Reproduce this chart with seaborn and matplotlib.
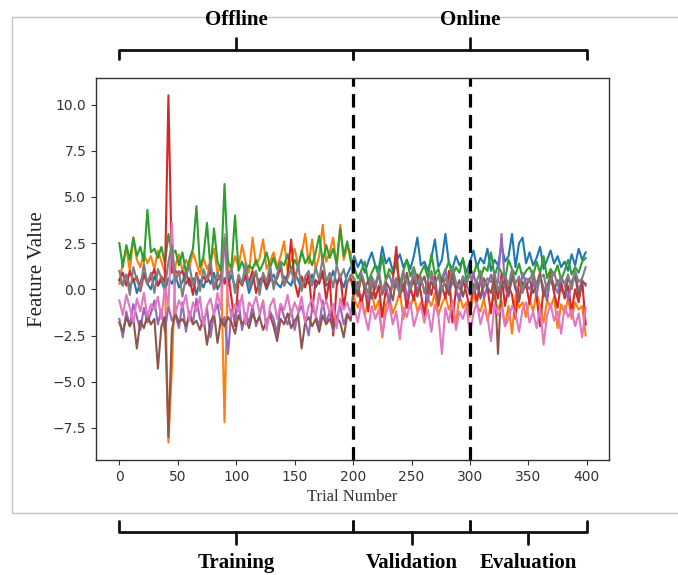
import matplotlib
matplotlib.use('Agg')
import matplotlib.pyplot as plt
import matplotlib.transforms as mtransforms
from matplotlib.lines import Line2D
from matplotlib.patches import Rectangle
import seaborn as sns
import pandas as pd

# numero do ensaio (um ponto a cada 3 ensaios)
trials = list(range(0, 400, 3))

# valores: offline (0-198) + online (201-399)
blue = [0.5, 0.2, 0.8, 0.1, 0.6, -0.2, 0.4, 0.9, 0.3, 0.0,
        0.7, 0.2, 0.5, -0.1, 0.6, 0.3, 0.8, 0.1, 0.4, 1.0,
        0.2, 0.6, -0.3, 0.5, 0.1, 0.7, 0.3, 0.9, 0.0, 0.4,
        0.6, 0.2, 0.8, 0.1, 0.5, 0.3, 0.7, -0.2, 0.4, 0.9,
        0.2, 0.6, 0.0, 0.5, 0.8, 0.3, 0.1, 0.7, 0.4, 0.2,
        0.9, 0.5, 0.0, 0.6, 0.3, 0.8, 0.1, 0.5, 0.7, 0.2,
        0.4, 1.0, 0.3, 0.6, 0.1, 0.8, 1.2,
        1.8, 1.2, 1.6, 0.9, 1.5, 2.0, 1.3, 1.1, 2.3, 1.4,
        1.7, 1.0, 1.5, 1.9, 1.2, 1.6, 1.1, 1.8, 2.8, 1.3,
        1.5, 1.0, 1.7, 2.7, 1.2, 1.6, 3.0, 1.4, 1.1, 1.8,
        1.3, 1.6, 0.9, 1.5, 2.1, 1.2, 1.7, 1.4, 2.2, 1.0,
        1.6, 1.3, 2.4, 1.5, 1.8, 3.0, 1.2, 2.5, 2.8, 1.4,
        2.0, 1.3, 1.7, 2.3, 1.1, 1.6, 2.1, 1.4, 1.8, 1.2,
        1.5, 1.0, 1.9, 1.3, 2.2, 1.6, 2.0]

orange = [0.3, 1.5, 2.2, 1.0, 2.8, 1.6, 1.2, 2.0, 1.4, 1.8,
          1.1, 2.1, 1.5, 0.9, -8.3, -4.3, 1.3, 1.9, 1.0, 1.6,
          1.2, 2.0, 1.4, 0.8, 1.7, 1.1, 1.5, 2.2, 0.9, 1.3,
          -7.2, 1.6, 1.0, 1.8, 1.2, 2.4, 1.5, 0.9, 2.8, 1.3,
          1.7, 2.7, 1.1, 1.5, 2.0, 1.2, 1.8, 2.6, 1.0, 1.6,
          2.2, 1.3, 1.9, 3.0, 1.4, 2.7, 1.1, 1.8, 3.5, 1.5,
          2.0, 2.8, 1.2, 3.5, 1.6, 2.3, 2.0,
          -0.5, -1.0, -0.3, -1.4, -0.7, -0.2, -1.1, -0.6, -2.6, -0.9,
          -0.4, -1.3, -0.8, -0.1, -1.6, -0.6, -1.0, -0.3, -1.2, -0.7,
          -1.8, -0.5, -0.9, -0.2, -1.4, -0.8, -0.4, -1.1, -0.6, -1.9,
          -0.3, -1.0, -0.7, -1.5, -0.2, -0.9, -1.2, -0.5, -1.7, -0.8,
          -0.4, -1.1, -0.6, -2.0, -0.9, -2.4, -0.3, -1.0, -0.7, -1.5,
          -0.5, -1.2, -0.2, -0.9, -1.8, -0.6, -1.0, -0.4, -2.1, -0.8,
          -1.3, -0.5, -1.6, -0.7, -1.1, -0.9, -2.5]

green = [2.5, 1.2, 2.4, 1.6, 2.8, 1.8, 2.3, 1.5, 4.3, 2.0,
         2.2, 1.7, 2.3, 1.4, 3.0, 1.9, 2.1, 1.3, 2.0, 0.9,
         1.6, 2.2, 4.5, 1.2, 1.8, 3.6, 1.1, 3.3, 1.5, 1.0,
         5.7, 1.4, 1.2, 4.0, 1.0, 1.5, 0.9, 1.3, 1.1, 1.6,
         1.0, 1.4, 2.0, 1.2, 1.7, 1.1, 1.5, 1.3, 1.9, 1.0,
         1.6, 1.2, 2.1, 1.4, 1.8, 1.3, 2.0, 2.9, 1.5, 2.4,
         1.7, 2.2, 1.4, 3.3, 1.8, 2.6, 1.5,
         1.2, 0.6, 1.0, 1.5, 0.4, 0.9, 1.3, 0.7, 1.8, 0.5,
         1.1, 0.8, 1.4, 0.3, 1.0, 1.6, 0.7, 1.2, 0.5, 0.9,
         1.3, 0.6, 1.9, 0.8, 1.1, 0.4, 1.0, 1.5, 0.7, 1.2,
         0.9, 1.7, 0.5, 1.1, 0.8, 1.4, 0.6, 1.2, 1.0, 2.0,
         0.7, 1.3, 0.9, 0.5, 1.6, 1.1, 0.8, 1.4, 0.6, 1.0,
         1.2, 0.7, 1.5, 0.9, 1.8, 0.6, 1.1, 0.8, 1.3, 0.5,
         1.0, 1.6, 0.8, 1.2, 0.9, 1.5, 1.7]

red = [0.5, 0.9, 0.2, 1.0, 0.4, 0.7, -0.1, 0.8, 0.3, 0.6,
       1.1, 0.2, 0.7, 0.4, 10.5, 0.9, 1.0, 0.8, 1.0, 0.3,
       0.6, -0.3, 0.9, 0.2, 0.7, 0.4, 1.1, 0.0, 0.5, 0.8,
       0.3, 0.9, -0.5, -2.0, 0.6, 0.2, 0.8, 0.4, 1.0, -0.2,
       0.5, 0.7, 0.1, 0.9, 0.3, 0.6, 1.2, 0.2, 0.8, 2.7,
       0.4, -0.4, 0.7, 0.1, 0.9, -1.2, 0.5, 0.3, 1.0, -0.6,
       0.6, -2.5, 0.2, 0.8, -1.0, 0.4, 0.6,
       -0.3, 0.4, -0.8, 0.1, -1.2, 0.6, -0.5, 0.2, -1.5, 0.0,
       -0.7, 0.5, 2.3, -0.4, 0.3, -1.0, 0.1, -0.6, 0.8, -0.2,
       -1.4, 0.4, -0.3, 0.7, -0.9, 0.2, -0.5, 1.0, -1.8, 0.0,
       -0.6, 0.5, -0.2, -1.1, 0.3, -0.7, 0.6, -0.4, 0.1, -1.3,
       0.4, -0.5, 0.8, -0.9, 0.2, -0.3, -1.6, 0.5, -0.1, 0.3,
       -0.8, 0.6, -0.4, -2.0, 0.1, -0.6, 0.9, -0.2, -1.0, 0.4,
       -0.5, 0.2, -1.2, 0.0, -0.7, 0.5, -1.9]

purple = [-1.6, -2.6, -1.2, -2.0, -0.8, -1.5, -2.2, -1.0, -1.8, -1.3,
          -0.6, -1.9, -1.1, -2.3, -0.9, -1.7, -1.4, -2.1, -0.7, -2.3,
          -1.2, -1.8, -0.5, -1.6, -2.0, -1.0, -2.6, -1.3, -0.8, -1.9,
          -1.5, -3.5, -1.1, -1.7, -0.6, -2.2, -1.3, -1.8, -0.9, -2.0,
          -1.4, -0.7, -2.1, -1.2, -1.6, -2.4, -0.8, -1.5, -1.9, -1.1,
          -2.2, -1.3, -0.9, -1.7, -2.5, -1.0, -1.4, -2.0, -0.6, -1.8,
          -1.2, -2.3, -1.5, -0.9, -1.9, -1.3, -1.6,
          0.3, -0.4, 0.8, 0.1, -0.6, 0.5, 0.0, 0.9, -0.3, 0.4,
          -0.8, 0.6, 0.2, -0.2, 1.0, -0.5, 0.3, 0.7, -0.1, 0.5,
          0.0, -0.7, 0.8, 0.2, -0.4, 0.6, 1.1, -0.2, 0.4, 0.1,
          -0.6, 0.7, 0.3, -0.3, 0.9, 0.0, 0.5, -0.5, 0.2, 0.8,
          -0.1, 0.4, 3.0, 0.1, -0.4, 0.6, 0.2, -0.7, 0.9, 0.3,
          0.0, 0.5, -0.3, 0.7, 0.1, -0.5, 0.8, 0.2, -0.2, 0.6,
          0.3, -0.6, 0.4, 0.9, -0.1, 0.5, 0.2]

brown = [-1.8, -2.3, -1.5, -2.0, -1.6, -3.2, -1.7, -2.1, -1.4, -1.9,
         -1.6, -4.3, -2.0, -1.5, -8.0, -2.2, -1.3, -1.8, -1.6, -2.0,
         -1.4, -1.9, -1.7, -2.2, -1.5, -3.0, -1.8, -1.3, -2.9, -1.6,
         -2.0, -1.5, -1.8, -2.4, -1.4, -1.9, -1.6, -2.1, -1.3, -1.8,
         -1.5, -2.2, -1.7, -1.4, -2.0, -2.8, -1.6, -1.9, -1.3, -2.1,
         -1.7, -1.4, -3.2, -1.8, -1.5, -2.0, -1.6, -2.3, -1.4, -1.9,
         -1.6, -2.1, -1.5, -1.8, -2.6, -1.4, -1.7,
         0.4, -0.3, 0.7, 0.0, 0.5, -0.5, 0.3, 0.8, -0.2, 0.4,
         0.1, -0.6, 0.6, 0.2, -0.1, 0.9, 0.0, 0.5, -0.4, 0.3,
         0.7, -0.2, 0.4, 0.1, -0.7, 0.6, 0.2, -0.3, 0.8, 0.0,
         0.5, -0.4, 0.3, 0.9, -0.1, 0.4, -0.5, 0.6, 0.1, -0.2,
         0.7, -3.5, 0.2, 0.5, -0.3, 0.8, 0.0, -0.6, 0.4, 0.1,
         0.6, -0.2, 0.3, 0.9, -0.4, 0.2, 0.7, -0.1, 0.5, 0.0,
         -0.3, 0.6, 0.2, 0.8, -0.5, 0.4, 0.3]

pink = [-0.6, -1.4, -0.3, -1.0, -1.8, -0.5, -1.2, -0.2, -1.5, -0.8,
        -1.1, -0.4, -1.6, 0.2, -0.9, 3.6, -1.3, -0.6, -1.0, -0.3,
        -1.7, -0.7, -1.2, -0.4, -2.0, -0.9, -0.5, -1.4, -0.2, -1.1,
        3.0, -0.6, -1.5, -0.8, -1.2, -0.3, -1.9, -0.7, -1.0, -0.4,
        -1.3, -0.6, -2.2, -0.9, -0.5, -1.6, -0.8, -1.1, -0.3, -1.4,
        -0.7, -1.2, -0.4, -1.8, -0.9, -0.5, -1.5, -0.2, -1.0, -0.6,
        -1.3, -0.8, -2.1, -0.5, -1.1, -0.7, -1.4,
        -1.0, -1.8, -0.7, -1.4, -2.2, -0.9, -1.6, -1.1, -2.5, -1.3,
        -0.8, -1.9, -1.2, -2.7, -1.0, -1.5, -0.7, -2.0, -1.3, -0.9,
        -1.7, -1.1, -2.3, -0.8, -1.4, -3.5, -1.0, -1.8, -0.6, -2.2,
        -1.2, -1.6, -0.9, -2.4, -1.3, -0.7, -1.9, -1.1, -1.5, -2.8,
        -0.8, -1.4, -1.0, -2.0, -1.6, -0.9, -1.3, -2.3, -1.1, -0.7,
        -1.8, -1.2, -2.1, -1.0, -3.0, -1.4, -0.8, -1.7, -1.2, -2.4,
        -0.9, -1.5, -1.1, -2.0, -1.3, -2.6, -1.0]

gray = [1.0, 0.2, 0.8, -0.3, 1.2, 0.5, 0.0, 1.4, 0.3, 0.9,
        -0.2, 1.1, 0.6, 0.1, 1.5, 2.4, 0.4, 1.0, -0.4, 0.7,
        1.3, 0.2, 0.8, -0.1, 1.1, 0.5, 1.6, 0.0, 0.9, 0.4,
        2.8, 0.6, 1.2, -0.2, 0.8, 0.3, 1.4, 0.1, 0.7, 1.0,
        -0.3, 0.9, 0.4, 1.3, 0.0, 0.8, 1.5, 0.2, 0.6, 1.1,
        0.3, 1.4, -0.1, 0.7, 1.0, 0.2, 1.2, 0.5, 1.7, 0.4,
        0.9, 0.1, 1.3, 0.6, 1.1, 0.3, 0.8,
        0.6, 0.0, 0.9, 0.3, -0.2, 0.7, 0.2, 1.0, -0.1, 0.5,
        0.8, 0.1, 0.6, -0.3, 0.9, 0.4, 0.0, 1.1, 0.3, 0.7,
        -0.2, 0.5, 1.0, 0.2, 0.8, -0.1, 0.6, 0.3, 1.2, 0.4,
        0.0, 0.7, 0.3, 0.9, -0.2, 0.5, 1.0, 0.1, 0.6, 0.4,
        0.9, -0.1, 0.5, 0.8, 0.2, 1.1, 0.3, 0.7, -0.2, 0.6,
        0.4, 1.0, 0.1, 0.6, 0.8, -0.1, 0.5, 0.9, 0.2, 0.7,
        0.3, 0.8, 0.0, 1.0, 0.4, 0.6, 1.2]

series = {'f1': blue, 'f2': orange, 'f3': green, 'f4': red,
          'f5': purple, 'f6': brown, 'f7': pink, 'f8': gray}

# tabela longa para o seaborn
partes = []
for nome, vals in series.items():
    partes.append(pd.DataFrame({'trial': trials, 'value': vals, 'feature': nome}))
df = pd.concat(partes, ignore_index=True)

fig = plt.figure(figsize=(6.78, 5.75), dpi=100)
ax = fig.add_axes([0.1416, 0.2, 0.7566, 0.6643])

sns.lineplot(data=df, x='trial', y='value', hue='feature',
             palette=sns.color_palette('tab10', 8), estimator=None,
             sort=False, legend=False, linewidth=1.5, ax=ax)

# linhas tracejadas separando as fases
for xv in [200, 300]:
    ax.axvline(xv, color='black', linewidth=2.3, linestyle=(0, (4.2, 2.3)))

ax.set_xticks(range(0, 401, 50))
ax.set_xlabel('Trial Number', family='Liberation Serif', fontsize=12, color='#333333')
ax.set_ylabel('Feature Value', family='Liberation Serif', fontsize=15, color='#222222')
ax.tick_params(labelsize=10, colors='#333333')
for s in ax.spines.values():
    s.set_color('#333333')
    s.set_linewidth(1.0)

# chaves (x em dados, y em fração da figura)
tr = mtransforms.blended_transform_factory(ax.transData, fig.transFigure)

def fy(py):
    return 1 - py / 575

def chave(x0, x1, y_linha, y_ponta, y_meio):
    xm = (x0 + x1) / 2
    for xs, ys in [([x0, x0, x1, x1], [y_ponta, y_linha, y_linha, y_ponta]),
                   ([xm, xm], [y_linha, y_meio])]:
        fig.add_artist(Line2D(xs, [fy(v) for v in ys], transform=tr,
                              color='#111111', linewidth=2.0,
                              solid_joinstyle='round', solid_capstyle='round'))

chave(0, 200, 50, 59, 38)
chave(200, 400, 50, 59, 38)
chave(0, 200, 532, 521, 544)
chave(200, 300, 532, 521, 544)
chave(300, 400, 532, 521, 544)

fonte = dict(family='Liberation Serif', fontweight='bold', fontsize=15,
             ha='center', va='baseline', transform=tr)
fig.text(100, fy(25), 'Offline', **fonte)
fig.text(300, fy(25), 'Online', **fonte)
fig.text(100, fy(568), 'Training', **fonte)
fig.text(250, fy(568), 'Validation', **fonte)
fig.text(350, fy(568), 'Evaluation', **fonte)

# moldura cinza da figura original
fig.add_artist(Rectangle((12 / 678, fy(513)), 1.0, fy(17) - fy(513),
                         transform=fig.transFigure, fill=False,
                         edgecolor='#c4c4c4', linewidth=1.0))

fig.savefig('out.png', dpi=100)
